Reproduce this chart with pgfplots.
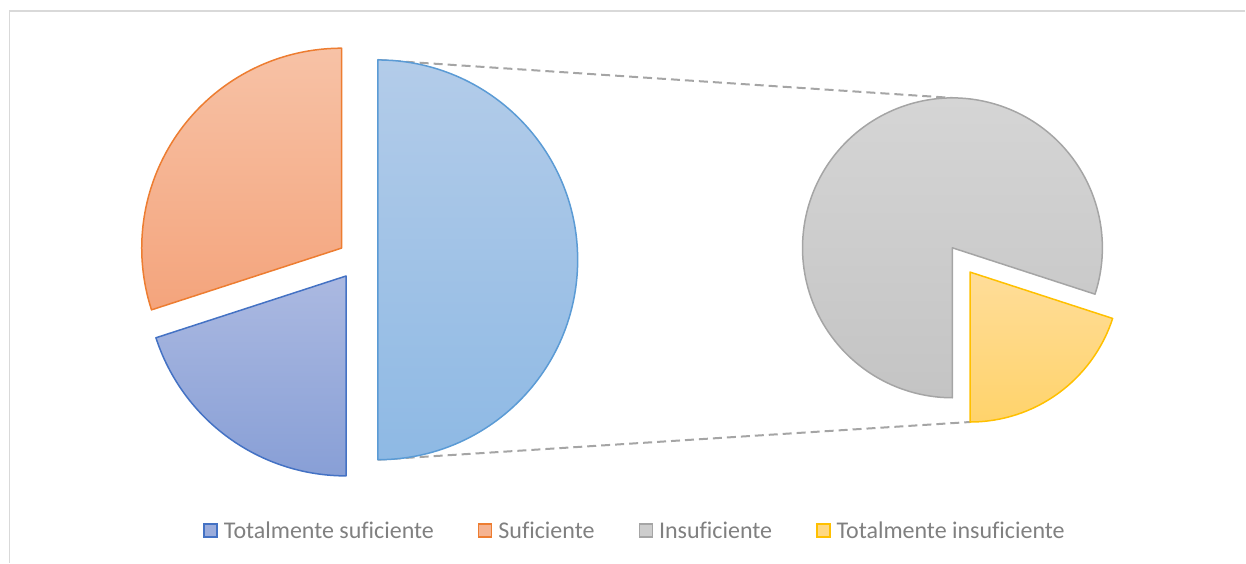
\documentclass[border=0pt]{standalone}
\usepackage{fontspec}
\setmainfont[Ligatures=NoCommon]{Carlito}
\usepackage{pgfplots}
\usepackage{pgfplotstable}
\pgfplotsset{compat=1.18}

\definecolor{tsTop}{HTML}{ABB9E1}\definecolor{tsBot}{HTML}{889FD6}\definecolor{tsLine}{HTML}{4472C4}\definecolor{tsMid}{HTML}{9AACDC}
\definecolor{sTop}{HTML}{F7C2A6}\definecolor{sBot}{HTML}{F4A47C}\definecolor{sLine}{HTML}{ED7D31}\definecolor{sMid}{HTML}{F5B391}
\definecolor{oTop}{HTML}{B3CCE9}\definecolor{oBot}{HTML}{8EB9E4}\definecolor{oLine}{HTML}{5B9BD5}
\definecolor{iTop}{HTML}{D6D6D6}\definecolor{iBot}{HTML}{C4C4C4}\definecolor{iLine}{HTML}{A5A5A5}\definecolor{iMid}{HTML}{CDCDCD}
\definecolor{tiTop}{HTML}{FFDD99}\definecolor{tiBot}{HTML}{FFD36B}\definecolor{tiLine}{HTML}{FFC000}\definecolor{tiMid}{HTML}{FFD882}
\definecolor{legtext}{HTML}{808080}
\definecolor{frame}{HTML}{D9D9D9}

\pgfplotstableread{
label value
TS 20
S 30
I 40
TI 10
}\piedata

\pgfplotstablegetelem{0}{value}\of\piedata \let\vTS\pgfplotsretval
\pgfplotstablegetelem{1}{value}\of\piedata \let\vS\pgfplotsretval
\pgfplotstablegetelem{2}{value}\of\piedata \let\vI\pgfplotsretval
\pgfplotstablegetelem{3}{value}\of\piedata \let\vTI\pgfplotsretval

% geometry (1 unit = 1pt = 1px)
\def\cx{358}\def\cy{303}\def\R{200}\def\dL{20}
\def\rx{953}\def\ry{315}\def\r{150}\def\dR{30}

\pgfmathsetmacro\vO{\vI+\vTI}
\pgfmathsetmacro\tot{\vTS+\vS+\vO}
\pgfmathsetmacro\aOa{-180*\vO/\tot}
\pgfmathsetmacro\aOb{180*\vO/\tot}
\pgfmathsetmacro\aSb{\aOb+360*\vS/\tot}
\pgfmathsetmacro\aTSb{\aSb+360*\vTS/\tot}
\pgfmathsetmacro\aTIa{-90}
\pgfmathsetmacro\aTIb{-90+360*\vTI/\vO}
\pgfmathsetmacro\aIb{270}
% exploded centres
\pgfmathsetmacro\oOx{\cx+\dL*cos((\aOa+\aOb)/2)}\pgfmathsetmacro\oOy{\cy+\dL*sin((\aOa+\aOb)/2)}
\pgfmathsetmacro\oSx{\cx+\dL*cos((\aOb+\aSb)/2)}\pgfmathsetmacro\oSy{\cy+\dL*sin((\aOb+\aSb)/2)}
\pgfmathsetmacro\oTSx{\cx+\dL*cos((\aSb+\aTSb)/2)}\pgfmathsetmacro\oTSy{\cy+\dL*sin((\aSb+\aTSb)/2)}
\pgfmathsetmacro\oTIx{\rx+\dR*cos((\aTIa+\aTIb)/2)}\pgfmathsetmacro\oTIy{\ry+\dR*sin((\aTIa+\aTIb)/2)}

\newcommand\slice[8]{%
  \path[top color=#6, bottom color=#7, draw=#8, line width=1.5pt, line join=round]
    (axis cs:#1,#2) -- ++(#4:#3pt) arc[start angle=#4, end angle=#5, radius=#3pt] -- cycle;}

\begin{document}
\begin{tikzpicture}
\begin{axis}[
  x=1pt, y=1pt, xmin=0, xmax=1246, ymin=0, ymax=563,
  hide axis, clip=false,
  legend image code/.code={\draw[#1, line width=1.5pt] (0pt,-6.5pt) rectangle (13pt,6.5pt);},
  legend columns=4,
  legend style={at={(0.5092,0.0568)}, anchor=center, draw=none, fill=none,
    font=\fontsize{24}{28}\selectfont, text=legtext,
    nodes={inner sep=0pt},
    /tikz/every odd column/.append style={column sep=6pt},
    /tikz/every even column/.append style={column sep=44pt}},
]
% full canvas
\path[draw=none, fill=none] (axis cs:0,0) rectangle (axis cs:1246,563);
% chart frame (top and left edges visible)
\draw[frame, line width=1.5pt] (axis cs:9.5,0) -- (axis cs:9.5,552) -- (axis cs:1246,552);
% connector lines
\draw[iLine, line width=2pt, dash pattern=on 9pt off 5pt] (axis cs:\oOx,\cy+\R) -- (axis cs:\rx,\ry+\r);
\draw[iLine, line width=2pt, dash pattern=on 9pt off 5pt] (axis cs:\oOx,\cy-\R) -- (axis cs:\oTIx,\oTIy-\r);
% first pie
\slice{\oOx}{\oOy}{\R}{\aOa}{\aOb}{oTop}{oBot}{oLine}
\slice{\oSx}{\oSy}{\R}{\aOb}{\aSb}{sTop}{sBot}{sLine}
\slice{\oTSx}{\oTSy}{\R}{\aSb}{\aTSb}{tsTop}{tsBot}{tsLine}
% second pie
\slice{\rx}{\ry}{\r}{\aTIb}{\aIb}{iTop}{iBot}{iLine}
\slice{\oTIx}{\oTIy}{\r}{\aTIa}{\aTIb}{tiTop}{tiBot}{tiLine}
% legend
\addlegendimage{fill=tsMid, draw=tsLine}\addlegendentry{Totalmente suficiente}
\addlegendimage{fill=sMid, draw=sLine}\addlegendentry{Suficiente}
\addlegendimage{fill=iMid, draw=iLine}\addlegendentry{Insuficiente}
\addlegendimage{fill=tiMid, draw=tiLine}\addlegendentry{Totalmente insuficiente}
\end{axis}
\end{tikzpicture}
\end{document}
